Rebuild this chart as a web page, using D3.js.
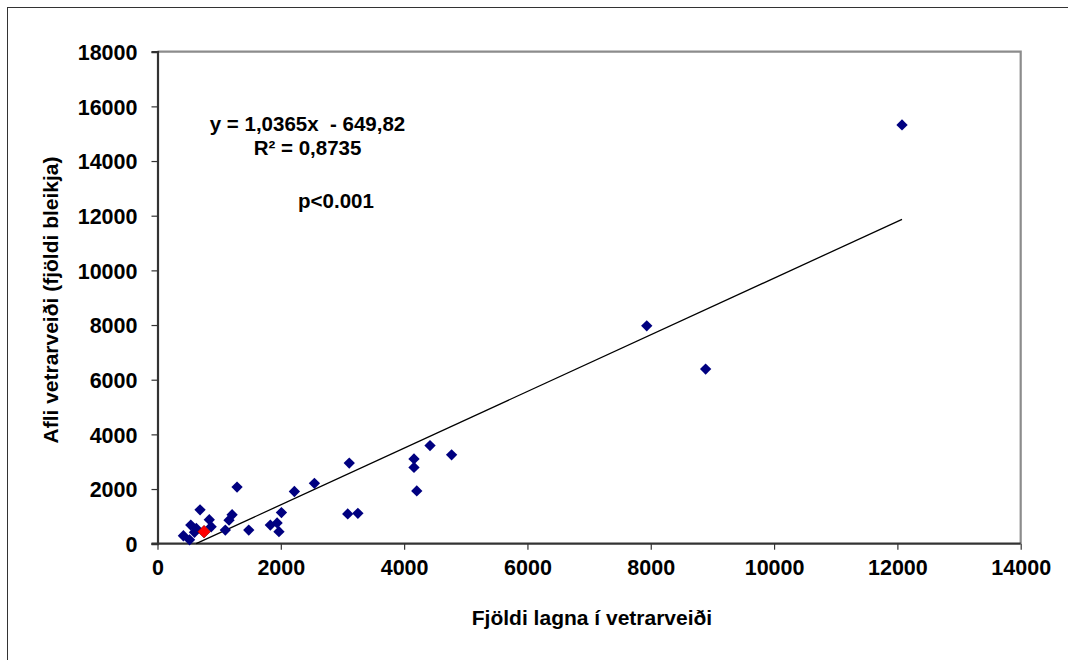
<!DOCTYPE html>
<html>
<head>
<meta charset="utf-8">
<script src="https://cdn.jsdelivr.net/npm/d3@7"></script>
<style>
  body { margin: 0; background: #fff; }
  svg { display: block; }
  text { font-family: "Liberation Sans", Arial, sans-serif; font-weight: bold; fill: #000; white-space: pre; }
</style>
</head>
<body>
<svg id="chart" width="1068" height="660"></svg>
<script>
// Data
const lagnir = [420, 520, 540, 630, 600, 690, 840, 870, 1100, 1160, 1210, 1290, 1480, 1830, 1940, 1970, 2010, 2220, 2545, 3110, 3085, 3250, 4160, 4160, 4205, 4420, 4770, 7935, 8890, 12075];
const afli   = [290, 140, 680, 560, 420, 1240, 880, 620, 500, 860, 1060, 2070, 500, 680, 760, 440, 1140, 1910, 2210, 2950, 1090, 1110, 3100, 2790, 1930, 3590, 3250, 7970, 6390, 15320];
const highlightX = [755];
const highlightY = [440];
const slope = 1.0365;
const intercept = -649.82;
const xTicks = [0, 2000, 4000, 6000, 8000, 10000, 12000, 14000];
const yTicks = [0, 2000, 4000, 6000, 8000, 10000, 12000, 14000, 16000, 18000];
const xTitle = "Fjöldi lagna í vetrarveiði";
const yTitle = "Afli vetrarveiði (fjöldi bleikja)";
const eqLines = ["y = 1,0365x  - 649,82", "R² = 0,8735"];
const pText = "p<0.001";

const svg = d3.select("#chart");
const pL = 157.5, pR = 1020.7, pT = 51.7, pB = 543.7;

// outer frame (only top/left visible in the reference)
svg.append("rect").attr("x", 7.5).attr("y", 7.5).attr("width", 1100).attr("height", 700)
  .attr("fill", "none").attr("stroke", "#333").attr("stroke-width", 1);

const x = d3.scaleLinear().domain([0, 14000]).range([pL, pR]);
const y = d3.scaleLinear().domain([0, 18000]).range([pB, pT]);

// plot border (top/right gray)
svg.append("path")
  .attr("d", `M${pL},${pT}H${pR}V${pB}`)
  .attr("fill", "none").attr("stroke", "#8c8c8c").attr("stroke-width", 2.2);

// axes
const xAxis = svg.append("g").attr("transform", `translate(0,${pB})`)
  .call(d3.axisBottom(x).tickValues(xTicks).tickSize(6).tickPadding(10).tickFormat(d3.format("d")));
const yAxis = svg.append("g").attr("transform", `translate(${pL},0)`)
  .call(d3.axisLeft(y).tickValues(yTicks).tickSize(6).tickPadding(14).tickFormat(d3.format("d")));
[xAxis, yAxis].forEach(g => {
  g.select(".domain").attr("stroke", "#333").attr("stroke-width", 2.2);
  g.selectAll(".tick line").attr("stroke", "#333").attr("stroke-width", 1.2);
  g.selectAll(".tick text").style("font-size", "21.5px").style("font-family", '"Liberation Sans", Arial, sans-serif').style("font-weight", "bold").attr("fill", "#000");
});
xAxis.select(".domain").attr("d", `M${pL - 6},0H${pR}`);
yAxis.selectAll(".tick text").attr("dy", "0.36em");

// trendline (clipped to y >= 0)
const x0 = -intercept / slope;
const xMax = d3.max(lagnir);
const line = d3.line().x(d => x(d[0])).y(d => y(d[1]));
svg.append("path")
  .datum([[x0, 0], [xMax, slope * xMax + intercept]])
  .attr("d", line).attr("fill", "none").attr("stroke", "#000").attr("stroke-width", 1.3);

// points
const pts = lagnir.map((v, i) => [v, afli[i]]);
const sym = d3.symbol(d3.symbolSquare, 64);
svg.append("g").selectAll("path").data(pts).join("path")
  .attr("d", sym)
  .attr("transform", d => `translate(${x(d[0])},${y(d[1])}) rotate(45)`)
  .attr("fill", "#000080");
svg.append("g").selectAll("path").data(highlightX.map((v, i) => [v, highlightY[i]])).join("path")
  .attr("d", d3.symbol(d3.symbolSquare, 80))
  .attr("transform", d => `translate(${x(d[0])},${y(d[1])}) rotate(45)`)
  .attr("fill", "#ff0000").attr("stroke", "#800000").attr("stroke-width", 0.6);

// annotations
svg.append("text").attr("x", 307.5).attr("y", 131).attr("text-anchor", "middle").style("font-size", "20.5px").text(eqLines[0]);
svg.append("text").attr("x", 307.5).attr("y", 155).attr("text-anchor", "middle").style("font-size", "20.5px").text(eqLines[1]);
svg.append("text").attr("x", 336).attr("y", 208).attr("text-anchor", "middle").style("font-size", "20.5px").text(pText);

// axis titles
svg.append("text").attr("x", 592).attr("y", 625).attr("text-anchor", "middle").style("font-size", "21px").text(xTitle);
svg.append("text").attr("transform", "translate(58,300) rotate(-90)").attr("text-anchor", "middle").style("font-size", "21px").text(yTitle);
</script>
</body>
</html>
